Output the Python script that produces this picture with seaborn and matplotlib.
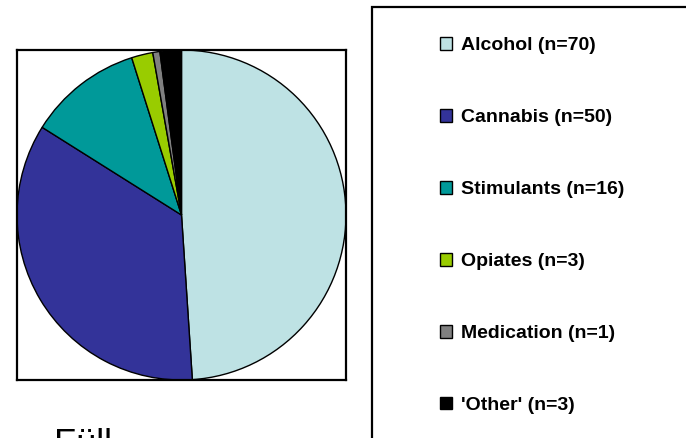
import matplotlib
matplotlib.use('Agg')
import matplotlib.pyplot as plt
import seaborn as sns
from matplotlib.patches import Rectangle

# data
categories = ['Alcohol', 'Cannabis', 'Stimulants', 'Opiates', 'Medication', "'Other'"]
counts = [70, 50, 16, 3, 1, 3]
colors = ['#BEE2E4', '#333399', '#009999', '#99CC00', '#808080', '#000000']

sns.set_theme(style='white')
plt.rcParams['font.family'] = ['Liberation Sans', 'DejaVu Sans']

W, H = 686, 438
fig = plt.figure(figsize=(W / 100, H / 100), dpi=100)
fig.patch.set_facecolor('white')

# pie panel (box around the pie)
ax = fig.add_axes([17 / W, (H - 380) / H, 329 / W, 330 / H])
wedges, _ = ax.pie(counts, colors=colors, startangle=90, counterclock=False,
                   wedgeprops=dict(edgecolor='black', linewidth=1.0))
ax.set_xlim(-1.0, 1.0)
ax.set_ylim(-1.0, 1.0)
ax.set_aspect('auto')
ax.set_axis_on()
ax.set_frame_on(True)
ax.set_xticks([])
ax.set_yticks([])
for s in ax.spines.values():
    s.set_visible(True)
    s.set_color('black')
    s.set_linewidth(1.6)

# legend box (runs off the right/bottom of the picture)
fig.patches.append(Rectangle((372 / W, -0.1), 0.5, (H - 7) / H + 0.1,
                             transform=fig.transFigure, fill=False,
                             edgecolor='black', linewidth=1.6))

labels = [f'{c} (n={n})' for c, n in zip(categories, counts)]
leg = fig.legend(wedges, labels, loc='upper left',
                 bbox_to_anchor=(440 / W, 1 - 37 / H),
                 frameon=False, borderpad=0, borderaxespad=0,
                 prop=dict(size=14, weight='bold'), labelcolor='black',
                 labelspacing=2.82, handlelength=0.62, handleheight=0.62,
                 handletextpad=0.45)

# cut-off caption at the bottom
fig.text(54 / W, (H - 455) / H, 'Füll', fontsize=26, color='black',
         ha='left', va='baseline')

plt.savefig('out.png', dpi=100)
plt.close()
